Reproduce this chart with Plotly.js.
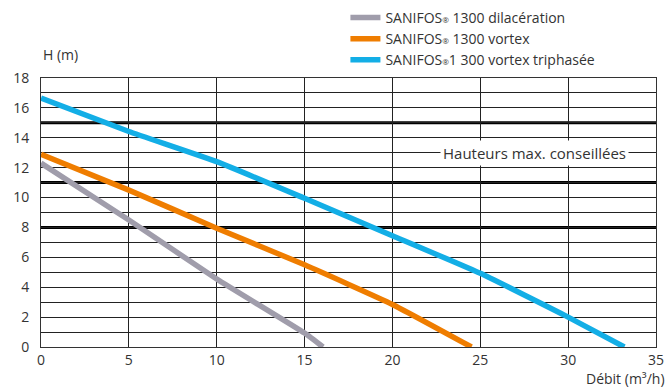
<!DOCTYPE html>
<html>
<head>
<meta charset="utf-8">
<script src="https://cdn.plot.ly/plotly-3.0.1.min.js"></script>
<style>html,body{margin:0;padding:0;background:#fff}#chart{width:671px;height:387px}</style>
</head>
<body>
<div id="chart"></div>
<script>
// Series: débit (m3/h) vs hauteur H (m)
const dilacerationX = [0, 5, 10, 15, 16.05];
const dilacerationY = [12.3, 8.5, 4.55, 0.93, 0];
const vortexX = [0, 5, 10, 15, 20, 24.5];
const vortexY = [12.9, 10.5, 7.95, 5.5, 2.85, 0];
const triphaseX = [0, 5, 10, 15, 20, 25, 30, 33.2];
const triphaseY = [16.65, 14.42, 12.4, 9.95, 7.45, 4.93, 2.0, 0];
const reg = '<span style="font-size:8px">®</span>';
const seriesNames = ["SANIFOS" + reg + " 1300 dilacération", "SANIFOS" + reg + " 1300 vortex", "SANIFOS" + reg + "1 300 vortex triphasée"];
const maxHeights = [8, 11, 15];
const maxLabel = "Hauteurs max. conseillées";
const xTicks = [0, 5, 10, 15, 20, 25, 30, 35];
const yTicks = [0, 2, 4, 6, 8, 10, 12, 14, 16, 18];

const colors = ["#a09dab", "#ef7d00", "#13aee6"];
const font = "Open Sans, sans-serif";
const txt = {family: font, size: 14, color: "#333"};

const traces = [
  {x: dilacerationX, y: dilacerationY, name: seriesNames[0]},
  {x: vortexX, y: vortexY, name: seriesNames[1]},
  {x: triphaseX, y: triphaseY, name: seriesNames[2]}
].map((t, i) => Object.assign(t, {
  type: "scatter", mode: "lines", line: {color: colors[i], width: 5.5, shape: "spline", smoothing: 0.4}, hoverinfo: "skip"
}));

const shapes = maxHeights.map(h => ({
  type: "line", xref: "paper", x0: 0, x1: 1, yref: "y", y0: h, y1: h,
  line: {color: "#000", width: 3}, layer: "below"
}));

const layout = {
  width: 671, height: 387,
  margin: {l: 41, r: 15, t: 78, b: 40, autoexpand: false},
  paper_bgcolor: "#fff", plot_bgcolor: "#fff",
  font: txt,
  showlegend: true,
  legend: {x: 0.495, y: 1.283, xanchor: "left", yanchor: "top", bgcolor: "rgba(0,0,0,0)",
           font: txt, tracegroupgap: 0},
  xaxis: {range: [0, 35], tickvals: xTicks, showgrid: true, gridcolor: "#222", gridwidth: 1,
          zeroline: false, showline: true, mirror: true, linecolor: "#333", linewidth: 1,
          ticks: "", fixedrange: true, title: {text: ""}},
  yaxis: {range: [0, 18], tickvals: yTicks, showgrid: true, gridcolor: "#222", gridwidth: 1,
          minor: {dtick: 1, showgrid: true, gridcolor: "#222", gridwidth: 1},
          zeroline: false, showline: true, mirror: true, linecolor: "#333", linewidth: 1,
          ticks: "", ticklabelstandoff: 8, fixedrange: true},
  shapes: shapes,
  annotations: [
    {x: 28.1, y: 13, xref: "x", yref: "y", text: maxLabel, showarrow: false,
     bgcolor: "#fff", borderpad: 2, font: {family: font, size: 15, color: "#333"}},
    {x: 0, y: 1, xref: "paper", yref: "paper", xanchor: "left", yanchor: "bottom", yshift: 12,
     text: "H (m)", showarrow: false, font: txt},
    {x: 1, y: 0, xref: "paper", yref: "paper", xanchor: "right", yanchor: "top", yshift: -20, xshift: 11,
     text: "Débit (m³/h)", showarrow: false, font: txt}
  ]
};

Plotly.newPlot("chart", traces, layout, {displayModeBar: false, staticPlot: true});
</script>
</body>
</html>
